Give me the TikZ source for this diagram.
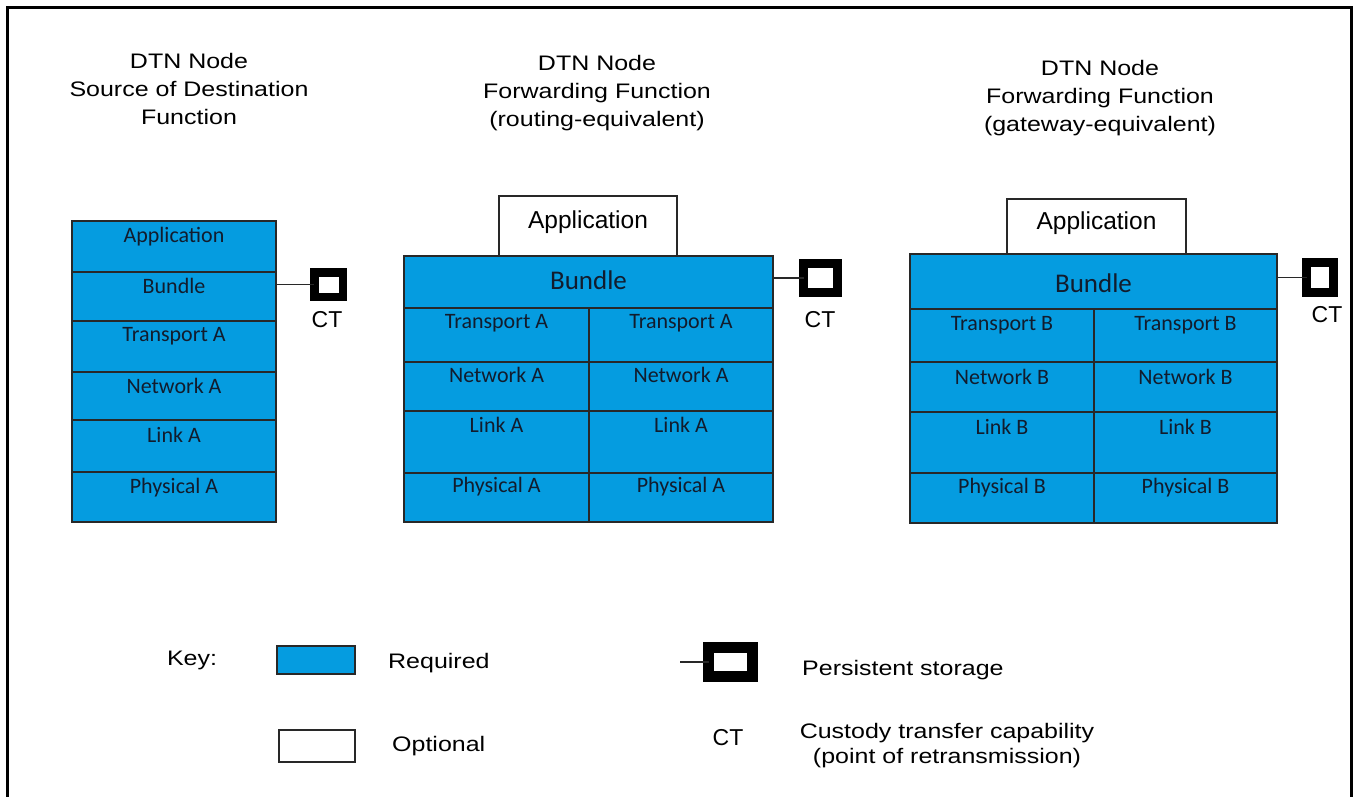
\documentclass[tikz,border=0pt]{standalone}
\usepackage{graphicx}
\usepackage{fontspec}
\setmainfont{Liberation Sans}
\newfontfamily\calfont{Carlito}
\definecolor{reqblue}{RGB}{5,156,224}
\definecolor{linec}{RGB}{40,40,40}
\definecolor{lyrtxt}{RGB}{18,28,45}
\newcommand\sx[1]{\scalebox{1.19}[1]{#1}}
\tikzset{
 cellbox/.style={draw=linec, line width=1.3pt, fill=reqblue, inner sep=0pt, outer sep=0pt, anchor=north west},
 optbox/.style={draw=linec, line width=1.3pt, fill=white, inner sep=0pt, outer sep=0pt, anchor=north west},
 lyr/.style={font=\calfont\fontsize{22}{26}\selectfont, text=lyrtxt, inner sep=0pt},
 bund/.style={font=\calfont\fontsize{27}{31}\selectfont, text=lyrtxt, inner sep=0pt},
 apptxt/.style={font=\fontsize{24.5}{28}\selectfont, inner sep=0pt},
 head/.style={font=\fontsize{21}{28}\selectfont, align=center, inner sep=0pt},
 ctlbl/.style={font=\fontsize{23}{27}\selectfont, inner sep=0pt},
 keytxt/.style={font=\fontsize{21}{25}\selectfont, inner sep=0pt},
 store/.style={draw=black, fill=white, inner sep=0pt, outer sep=0pt},
 conn/.style={draw=linec, line width=1.3pt},
}
% name, x, y, w, h, text-offset, text
\newcommand\lcell[7]{%
 \node[cellbox, minimum width=#4pt, minimum height=#5pt] (#1) at (#2,#3) {};
 \node[lyr] (#1-t) at (#2+#4/2, #3+#6) {#7};}
\begin{document}
\begin{tikzpicture}[x=1pt,y=-1pt]
\useasboundingbox (0,0) rectangle (1354,797);
\fill[white] (0,0) rectangle (1354,797);
% frame (open at bottom)
\draw[line width=3pt, black] (7,797) -- (7,8) -- (1351.5,8) -- (1351.5,797);

% headings
\node[head] (h1) at (189,89) {\sx{DTN Node}\\\sx{Source of Destination}\\\sx{Function}};
\node[head] (h2) at (597,93) {\sx{DTN Node}\\\sx{Forwarding Function}\\\sx{(routing-equivalent)}};
\node[head] (h3) at (1100,98) {\sx{DTN Node}\\\sx{Forwarding Function}\\\sx{(gateway-equivalent)}};

% left stack
\lcell{a1}{72}{221}{204}{51}{16}{Application}
\lcell{a2}{72}{272}{204}{49}{14}{Bundle}
\lcell{a3}{72}{321}{204}{51}{15}{Transport A}
\lcell{a4}{72}{372}{204}{48}{14}{Network A}
\lcell{a5}{72}{420}{204}{52}{15}{Link A}
\lcell{a6}{72}{472}{204}{50}{16}{Physical A}
\node[store, line width=8.5pt, minimum width=28.5pt, minimum height=24.5pt] (s1) at (328.5,284.5) {};
\draw[conn] (a2.east |- s1.west) -- (s1.west);
\node[ctlbl] (ct1) at (327,320) {CT};

% middle stack
\node[optbox, minimum width=178pt, minimum height=60pt] (bapp) at (499,196) {};
\node[apptxt] (bapp-t) at (588,222) {Application};
\node[cellbox, minimum width=369pt, minimum height=52pt] (b2) at (404,256) {};
\node[bund] (b2-t) at (588.5,280) {Bundle};
\lcell{bl3}{404}{308}{185}{54}{15}{Transport A}
\lcell{br3}{589}{308}{184}{54}{15}{Transport A}
\lcell{bl4}{404}{362}{185}{49}{13}{Network A}
\lcell{br4}{589}{362}{184}{49}{13}{Network A}
\lcell{bl5}{404}{411}{185}{62}{14}{Link A}
\lcell{br5}{589}{411}{184}{62}{14}{Link A}
\lcell{bl6}{404}{473}{185}{49}{14}{Physical A}
\lcell{br6}{589}{473}{184}{49}{14}{Physical A}
\draw[linec, line width=2.2pt] (b2.south west) -- (b2.south east);
\node[store, line width=9pt, minimum width=34pt, minimum height=29pt] (s2) at (820.5,278) {};
\draw[conn] (b2.east |- s2.west) -- (s2.west);
\node[ctlbl] (ct2) at (820,320) {CT};

% right stack
\node[optbox, minimum width=179pt, minimum height=55pt] (capp) at (1007,199) {};
\node[apptxt] (capp-t) at (1096.5,223) {Application};
\node[cellbox, minimum width=367pt, minimum height=55pt] (c2) at (910,254) {};
\node[bund] (c2-t) at (1093.5,283) {Bundle};
\lcell{cl3}{910}{309}{184}{53}{16}{Transport B}
\lcell{cr3}{1094}{309}{183}{53}{16}{Transport B}
\lcell{cl4}{910}{362}{184}{50}{15}{Network B}
\lcell{cr4}{1094}{362}{183}{50}{15}{Network B}
\lcell{cl5}{910}{412}{184}{61}{15}{Link B}
\lcell{cr5}{1094}{412}{183}{61}{15}{Link B}
\lcell{cl6}{910}{473}{184}{50}{15}{Physical B}
\lcell{cr6}{1094}{473}{183}{50}{15}{Physical B}
\draw[linec, line width=2.2pt] (c2.south west) -- (c2.south east);
\node[store, line width=9pt, minimum width=27pt, minimum height=30pt] (s3) at (1320,277.5) {};
\draw[conn] (c2.east |- s3.west) -- (s3.west);
\node[ctlbl] (ct3) at (1327,315) {CT};

% key
\node[keytxt] (key) at (192,660) {\sx{Key:}};
\node[cellbox, minimum width=78pt, minimum height=28pt] (kreq) at (277,646) {};
\node[keytxt, anchor=west] (kreq-t) at (388,663) {\sx{Required}};
\node[optbox, minimum width=76pt, minimum height=32pt] (kopt) at (279,730) {};
\node[keytxt, anchor=west] (kopt-t) at (392,746) {\sx{Optional}};
\coordinate (kls) at (680,662);
\node[store, line width=11pt, minimum width=44pt, minimum height=29pt] (ks) at (730.5,662) {};
\draw[conn] (kls) -- (ks.west);
\node[keytxt, anchor=west] (ks-t) at (802,670) {\sx{Persistent storage}};
\node[ctlbl] (kct) at (728,738) {CT};
\node[keytxt, align=center] (kct-t) at (947,745.5) {\sx{Custody transfer capability}\\\sx{(point of retransmission)}};
\end{tikzpicture}
\end{document}
